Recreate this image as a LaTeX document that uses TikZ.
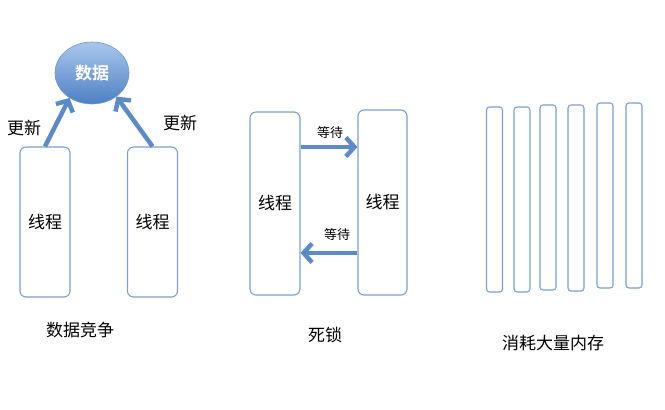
\documentclass[tikz,border=0pt]{standalone}
\usepackage{fontspec}
\setmainfont{Noto Sans CJK SC}
\newfontfamily\boldcjk{Noto Sans CJK SC Bold}
\usetikzlibrary{shapes.geometric,arrows.meta}
\definecolor{rectborder}{HTML}{7F9FCB}
\definecolor{arrowblue}{HTML}{5B8CC8}
\definecolor{elltop}{HTML}{A9C7EE}
\definecolor{ellbot}{HTML}{4E80C2}
\tikzset{
  thread/.style={draw=rectborder, line width=1.1pt, rounded corners=6pt, inner sep=0pt, fill=white},
  bigtext/.style={font=\fontsize{17pt}{20pt}\selectfont},
  smalltext/.style={font=\fontsize{13pt}{15pt}\selectfont},
  fatarrow/.style={draw=arrowblue, line width=4.5pt, -{Straight Barb[length=8.5pt,width=19pt]}},
}
\begin{document}
\begin{tikzpicture}[x=1pt,y=-1pt]
\useasboundingbox (0,0) rectangle (665,410);
% left: data race
\node[ellipse, minimum width=74pt, minimum height=62pt, draw=ellbot!80!white, line width=0.6pt,
      top color=elltop, bottom color=ellbot, text=white, font=\boldcjk\fontsize{17pt}{20pt}\selectfont] (data) at (92,73) {数据};
\node[thread, minimum width=50pt, minimum height=150pt, bigtext] (t1) at (45,222) {线程};
\node[thread, minimum width=50pt, minimum height=150pt, bigtext] (t2) at (152.5,222) {线程};
\draw[fatarrow] (t1.north) -- (data.228);
\draw[fatarrow] (t2.north) -- (data.316);
\node[bigtext] (u1) at (24,128) {更新};
\node[bigtext] (u2) at (180,123) {更新};
\node[bigtext] (l1) at (80,330) {数据竞争};
% middle: deadlock
\node[thread, minimum width=50pt, minimum height=183pt, bigtext] (a) at (275,203.5) {线程};
\node[thread, minimum width=49pt, minimum height=185pt, bigtext] (b) at (382.5,202.5) {线程};
\coordinate (y1) at (0,147);
\coordinate (y2) at (0,253);
\draw[fatarrow] (a.east |- y1) -- (b.west |- y1);
\draw[fatarrow] (b.west |- y2) -- (a.east |- y2);
\node[smalltext] (w1) at (330,133) {等待};
\node[smalltext] (w2) at (337,235) {等待};
\node[bigtext] (l2) at (325,335) {死锁};
% right: memory
\node[thread, minimum width=16pt, minimum height=185pt, rounded corners=3pt] (m1) at (494.5,199.5) {};
\node[thread, minimum width=16pt, minimum height=185pt, rounded corners=3pt] (m2) at (522,199.5) {};
\node[thread, minimum width=16pt, minimum height=185pt, rounded corners=3pt] (m3) at (548,197.5) {};
\node[thread, minimum width=16pt, minimum height=186pt, rounded corners=3pt] (m4) at (576,198) {};
\node[thread, minimum width=16pt, minimum height=185pt, rounded corners=3pt] (m5) at (605,195.5) {};
\node[thread, minimum width=16pt, minimum height=185pt, rounded corners=3pt] (m6) at (634,195.5) {};
\node[bigtext] (l3) at (553,343) {消耗大量内存};
\end{tikzpicture}
\end{document}
